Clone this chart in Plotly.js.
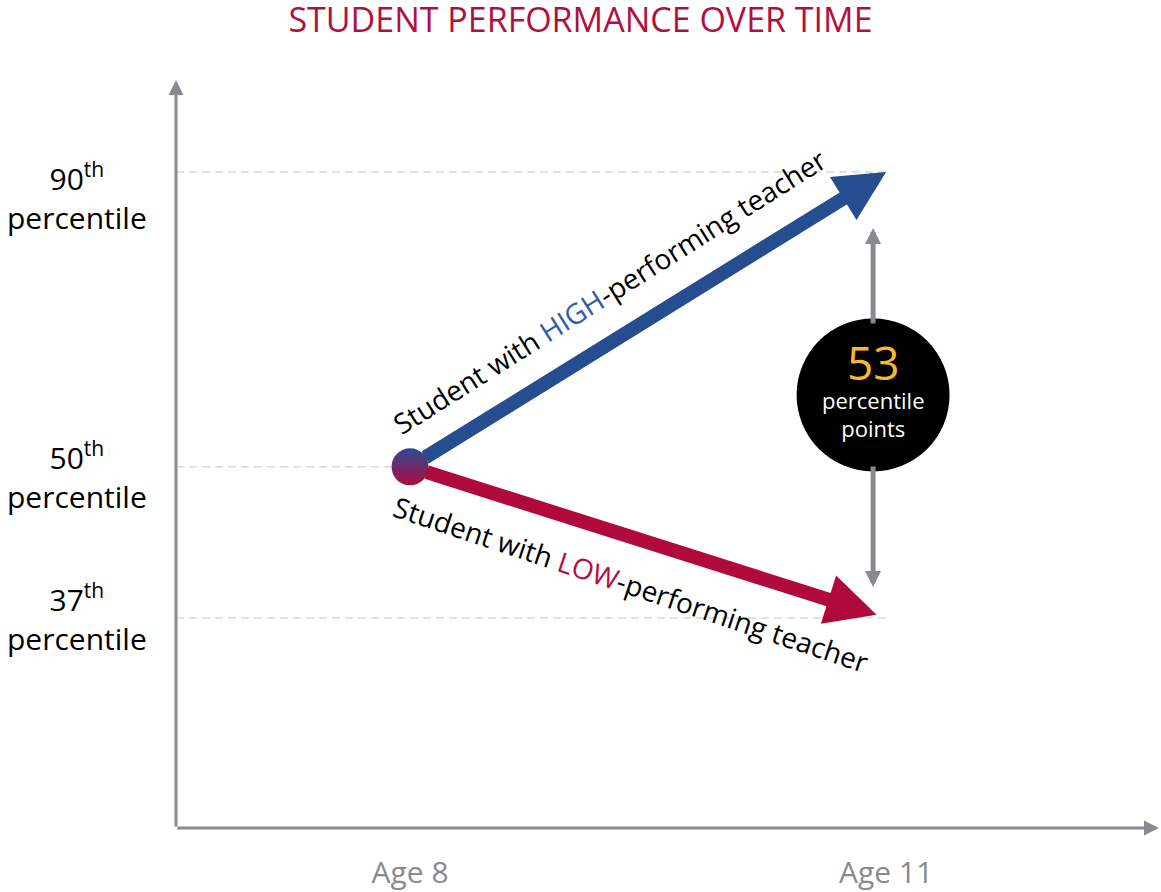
<!DOCTYPE html>
<html>
<head>
<meta charset="utf-8">
<script src="https://cdn.plot.ly/plotly-3.0.1.min.js"></script>
<style>html,body{margin:0;padding:0;background:#fff;}#chart{width:1161px;height:892px;}</style>
</head>
<body>
<div id="chart"></div>
<script>
// ---- data ----
const ages = [8, 11];
const ageLabels = ['Age 8', 'Age 11'];
const startPercentile = 50;
const highEndPercentile = 90;
const lowEndPercentile = 37;
const tickPercentiles = [90, 50, 37];
const tickNumbers = ['90', '50', '37'];
const gapPoints = 53;
const highLabel = ['Student with ', 'HIGH', '-performing teacher'];
const lowLabel = ['Student with ', 'LOW', '-performing teacher'];

// ---- style ----
const FONT = 'Open Sans, sans-serif';
const BLUE = '#264d8f', RED = '#b00a3d', GRAY = '#898a8f', GRID = '#d9d9d9';
const labelShifts = [-25, -9, 0];
const xRange = [6.525, 12.72];
const yRange = [Math.log10(24.34), Math.log10(108.1)];
const L = Math.log10;
const midGap = Math.sqrt(highEndPercentile * lowEndPercentile);
const gapShift = -13;
const pxPerDecade = 1155.3;
const circR = 76.5;

const traces = [];
// dashed guide lines from the y axis to each point
const guideEnds = [[highEndPercentile, ages[1]], [startPercentile, ages[0]], [lowEndPercentile, ages[1]]];
guideEnds.forEach(([p, a]) => {
  traces.push({x: [xRange[0], a], y: [p, p], mode: 'lines', hoverinfo: 'skip',
    line: {color: GRID, width: 1.5, dash: '8px,5px'}, showlegend: false});
});
// starting dot
traces.push({x: [ages[0]], y: [startPercentile], mode: 'markers', hoverinfo: 'skip', showlegend: false,
  marker: {size: 37, color: '#2b4a94', gradient: {type: 'vertical', color: '#b00a3d'}, line: {width: 0}}});

const ann = [];
// axis arrows
ann.push({xref: 'paper', yref: 'paper', x: 0, y: 1, ax: 0, ay: 748, text: '', showarrow: true,
  arrowhead: 2, arrowwidth: 3, arrowsize: 1, arrowcolor: GRAY});
ann.push({xref: 'paper', yref: 'paper', x: 1, y: 0, ax: -983, ay: 0, text: '', showarrow: true,
  arrowhead: 2, arrowwidth: 3, arrowsize: 1, arrowcolor: GRAY});
// performance arrows
ann.push({x: ages[1], y: L(highEndPercentile), ax: ages[0], ay: L(startPercentile), axref: 'x', ayref: 'y',
  xref: 'x', yref: 'y', text: '', showarrow: true, arrowhead: 2, arrowwidth: 14, arrowsize: 0.72,
  arrowcolor: BLUE, startstandoff: 16});
ann.push({x: ages[1], y: L(lowEndPercentile), ax: ages[0], ay: L(startPercentile), axref: 'x', ayref: 'y',
  xref: 'x', yref: 'y', text: '', showarrow: true, arrowhead: 2, arrowwidth: 14, arrowsize: 0.72,
  arrowcolor: RED, startstandoff: 16, standoff: 10});
// arrow labels
const angHigh = -32.3, angLow = 18.4;
ann.push({x: (ages[0] + ages[1]) / 2, y: L(Math.sqrt(startPercentile * highEndPercentile)), xref: 'x', yref: 'y',
  showarrow: false, textangle: angHigh, xshift: -38, yshift: 28,
  text: highLabel[0] + '<span style="color:#2f5ca8">' + highLabel[1] + '</span>' + highLabel[2],
  font: {family: FONT, size: 28, color: '#000'}});
ann.push({x: (ages[0] + ages[1]) / 2, y: L(Math.sqrt(startPercentile * lowEndPercentile)), xref: 'x', yref: 'y',
  showarrow: false, textangle: angLow, xshift: -17, yshift: -42,
  text: lowLabel[0] + '<span style="color:#b50d3e">' + lowLabel[1] + '</span>' + lowLabel[2],
  font: {family: FONT, size: 28, color: '#000'}});
// gap arrows (split around the circle)
ann.push({x: ages[1], y: L(highEndPercentile), ax: ages[1], ay: L(midGap), axref: 'x', ayref: 'y',
  xref: 'x', yref: 'y', text: '', showarrow: true, arrowhead: 2, arrowwidth: 5, arrowsize: 0.64,
  arrowcolor: GRAY, standoff: 56, startstandoff: 70, xshift: gapShift});
ann.push({x: ages[1], y: L(lowEndPercentile), ax: ages[1], ay: L(midGap), axref: 'x', ayref: 'y',
  xref: 'x', yref: 'y', text: '', showarrow: true, arrowhead: 2, arrowwidth: 5, arrowsize: 0.64,
  arrowcolor: GRAY, standoff: 31, startstandoff: 70, xshift: gapShift});
// circle text (one block so the lines do not collide)
ann.push({x: ages[1], y: L(midGap), xref: 'x', yref: 'y', showarrow: false, xshift: gapShift, yshift: 8,
  align: 'center', yanchor: 'middle',
  text: '<span style="font-size:46px;color:#f6b92b">' + gapPoints + '</span><br>percentile<br>points',
  font: {family: FONT, size: 22, color: '#ffffff'}});
// y tick labels
tickPercentiles.forEach((p, i) => {
  ann.push({xref: 'paper', yref: 'y', x: 0, y: L(p), xshift: -99, yshift: labelShifts[i], xanchor: 'center',
    yanchor: 'middle', showarrow: false, align: 'center',
    text: tickNumbers[i] + '<sup>th</sup><br>percentile', font: {family: FONT, size: 30, color: '#000'}});
});

const layout = {
  width: 1161, height: 892,
  margin: {l: 176, r: 2, t: 80, b: 64},
  paper_bgcolor: '#fff', plot_bgcolor: '#fff',
  showlegend: false,
  title: {text: 'STUDENT PERFORMANCE OVER TIME', font: {family: FONT, size: 34, color: '#b20f3f'},
    x: 0.5, xanchor: 'center', y: 0.977, yanchor: 'middle', yref: 'container'},
  xaxis: {range: xRange, showgrid: false, zeroline: false, showline: false, ticks: '',
    tickvals: ages, ticktext: ageLabels, tickfont: {family: FONT, size: 30, color: GRAY},
    ticklabelstandoff: 24, fixedrange: true},
  yaxis: {type: 'log', range: yRange, showgrid: false, zeroline: false, showline: false,
    showticklabels: false, ticks: '', fixedrange: true},
  shapes: [{type: 'circle', layer: 'above', xref: 'x', yref: 'y', xsizemode: 'pixel',
    xanchor: ages[1], x0: gapShift - circR, x1: gapShift + circR,
    y0: midGap * Math.pow(10, -circR / pxPerDecade), y1: midGap * Math.pow(10, circR / pxPerDecade),
    fillcolor: '#000', line: {width: 0}}],
  annotations: ann
};
Plotly.newPlot('chart', traces, layout, {displayModeBar: false, staticPlot: true});
</script>
</body>
</html>
